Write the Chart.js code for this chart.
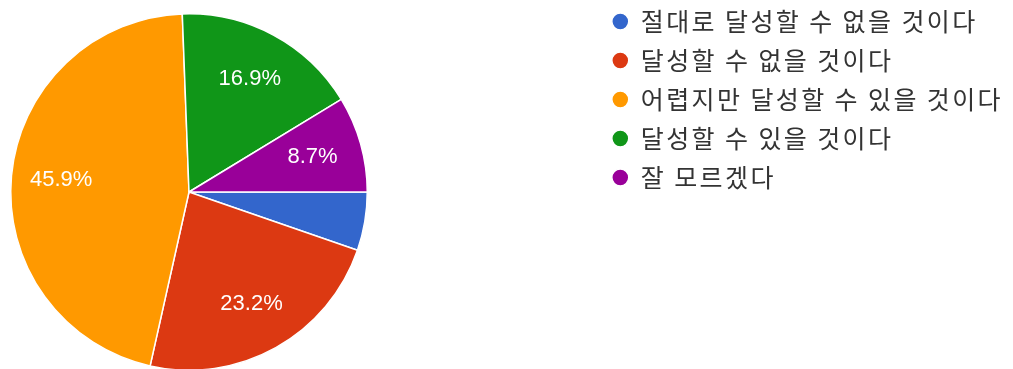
<!DOCTYPE html>
<html>
<head>
<meta charset="utf-8">
<script src="https://cdn.jsdelivr.net/npm/chart.js@4.4.1/dist/chart.umd.min.js"></script>
<style>
  html, body { margin: 0; padding: 0; background: #ffffff; }
  #answers-chart { display: block; }
</style>
</head>
<body>
<canvas id="answers-chart" width="1013" height="369"></canvas>
<script>
const answerLabels = [
  '절대로 달성할 수 없을 것이다',
  '달성할 수 없을 것이다',
  '어렵지만 달성할 수 있을 것이다',
  '달성할 수 있을 것이다',
  '잘 모르겠다'
]
const answerShares = [5.3, 23.2, 45.9, 16.9, 8.7]
const answerColors = ['#3366CC', '#DC3912', '#FF9900', '#109618', '#990099']

// square box the pie lives in (left part of the canvas)
const pieBox = { left: 10, top: 13, size: 358 }
const minLabelShare = 6
const legendSpacing = '2.4px'

// google forms draws the pie on the left and leaves the rest to the legend
const pieBoxPlugin = {
  id: 'pieBox',
  beforeLayout(chart) {
    // legend text is a bit spread out in the original
    chart.ctx.letterSpacing = legendSpacing
  },
  beforeDraw(chart) {
    chart.ctx.letterSpacing = legendSpacing
  },
  afterLayout(chart) {
    const area = chart.chartArea
    area.left = pieBox.left
    area.top = pieBox.top
    area.right = pieBox.left + pieBox.size
    area.bottom = pieBox.top + pieBox.size
    area.width = pieBox.size
    area.height = pieBox.size
  }
}

// percent text inside each slice
const sliceLabelPlugin = {
  id: 'sliceLabels',
  afterDatasetsDraw(chart) {
    const ctx = chart.ctx
    const meta = chart.getDatasetMeta(0)
    const data = chart.data.datasets[0].data
    ctx.save()
    ctx.letterSpacing = '0px'
    ctx.fillStyle = '#ffffff'
    ctx.font = '22px "Liberation Sans", Arial, sans-serif'
    ctx.textAlign = 'center'
    ctx.textBaseline = 'middle'
    meta.data.forEach((arc, i) => {
      if (data[i] < minLabelShare) return
      const mid = (arc.startAngle + arc.endAngle) / 2
      const r = arc.outerRadius * 0.72
      ctx.fillText(data[i].toFixed(1) + '%', arc.x + Math.cos(mid) * r, arc.y + Math.sin(mid) * r)
    })
    ctx.restore()
  }
}

const answersConfig = {
  type: 'pie',
  data: {
    labels: answerLabels,
    datasets: [{
      data: answerShares,
      backgroundColor: answerColors,
      borderColor: '#ffffff',
      borderWidth: 1.5
    }]
  },
  options: {
    responsive: false,
    animation: false,
    rotation: 90,
    layout: {
      padding: {
        top: -5,
        right: 0
      }
    },
    plugins: {
      legend: {
        position: 'right',
        align: 'start',
        labels: {
          usePointStyle: true,
          pointStyle: 'circle',
          boxHeight: 12,
          boxWidth: 16,
          padding: 14,
          color: '#333333',
          font: {
            family: '"Noto Sans CJK KR", sans-serif',
            size: 25
          }
        }
      },
      tooltip: {
        enabled: false
      }
    }
  },
  plugins: [pieBoxPlugin, sliceLabelPlugin]
}

const chartElement = document.getElementById('answers-chart').getContext('2d')
const answersChart = new Chart(chartElement, answersConfig)
</script>
</body>
</html>
